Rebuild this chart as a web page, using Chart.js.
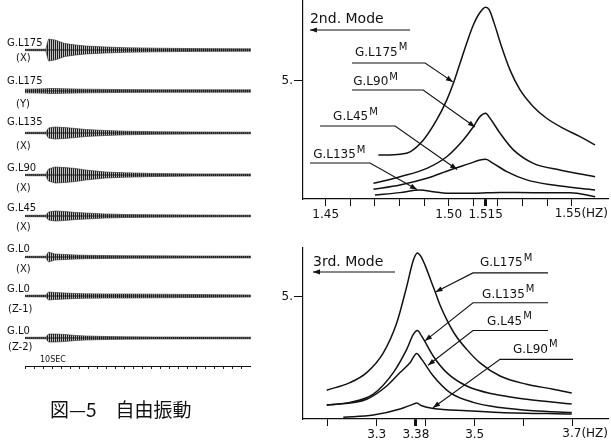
<!DOCTYPE html>
<html><head><meta charset="utf-8">
<script src="https://cdn.jsdelivr.net/npm/chart.js@4.4.1/dist/chart.umd.min.js"></script>
<style>
html,body{margin:0;padding:0;background:#fff;}
body{width:611px;height:443px;position:relative;overflow:hidden;font-family:"DejaVu Sans",sans-serif;color:#111;}
canvas{position:absolute;}
.lbl{position:absolute;font-size:10px;line-height:11px;transform:translateY(-50%);white-space:nowrap;color:#111;}
.cap{position:absolute;left:50px;top:408px;transform:translateY(-50%);font-family:"Noto Sans CJK JP",sans-serif;font-size:19px;color:#111;white-space:nowrap;}
</style></head><body>
<canvas id="cl" width="226" height="443" style="left:25px;top:0px"></canvas>
<canvas id="ct" width="351" height="230" style="left:260px;top:0px"></canvas>
<canvas id="cb" width="351" height="203" style="left:260px;top:240px"></canvas>
<div id="labels"></div>
<div class="cap">図—5　自由振動</div>
<script>
// ---------- DATA ----------
// Free vibration records: envelope half-amplitudes
const traceNames = ['G.L175','G.L175','G.L135','G.L90','G.L45','G.L0','G.L0','G.L0'];
const traceComps = ['(X)','(Y)','(X)','(X)','(X)','(X)','(Z-1)','(Z-2)'];
const traceTime  = [0, 2.3, 2.6, 3.3, 4.4, 5.6, 6.7, 8.9, 11.1, 14.4, 18.9, 25]; // sec
const ampGL175X = [0.7, 0.8, 11, 10, 6.5, 5, 4, 3, 2.3, 1.8, 1.4, 1.2];
const ampGL175Y = [1.8, 2.2, 2.5, 2.5, 2.2, 2, 1.8, 1.6, 1.4, 1.3, 1.3, 1.2];
const ampGL135X = [0.7, 0.8, 5, 6, 5.5, 4.5, 3.5, 2.5, 1.8, 1.3, 1, 0.8];
const ampGL90X  = [0.7, 0.8, 6, 8, 7.5, 6.5, 5, 3, 2.2, 1.5, 1.1, 1];
const ampGL45X  = [0.7, 0.8, 4, 5, 4.5, 3.5, 3, 2, 1.5, 1.2, 1, 0.8];
const ampGL0X   = [0.7, 0.8, 5, 3, 2.5, 2, 1.7, 1.5, 1.3, 1.2, 1, 0.9];
const ampGL0Z1  = [0.8, 0.9, 4, 3.5, 3, 2.5, 2.2, 2, 2, 1.8, 1.5, 1];
const ampGL0Z2  = [0.7, 0.8, 4, 4, 3.5, 2.5, 2, 1.5, 1.2, 1, 0.9, 0.8];
const traceAmps = [ampGL175X, ampGL175Y, ampGL135X, ampGL90X, ampGL45X, ampGL0X, ampGL0Z1, ampGL0Z2];

// 2nd mode resonance curves (frequency Hz, amplitude)
const m2f175 = [1.4714,1.4802,1.4843,1.4897,1.4951,1.4992,1.5019,1.5046,1.5073,1.5100,1.5125,1.5150,1.5165,1.5185,1.5215,1.5249,1.5290,1.5344,1.5398,1.5466,1.5534,1.5595];
const m2v175 = [1.86,1.90,2.00,2.50,3.35,4.19,4.90,5.75,6.60,7.37,7.87,8.12,8.01,7.44,6.45,5.47,4.62,3.91,3.42,2.99,2.64,2.29];
const m2f90  = [1.4694,1.4802,1.4911,1.4992,1.5059,1.5100,1.5127,1.5150,1.5168,1.5209,1.5263,1.5344,1.5452,1.5595];
const m2v90  = [0.665,0.945,1.30,1.79,2.50,3.06,3.49,3.63,3.42,2.78,2.08,1.51,1.23,0.945];
const m2f45  = [1.4694,1.4802,1.4911,1.5005,1.5087,1.5127,1.5150,1.5181,1.5236,1.5317,1.5425,1.5595];
const m2v45  = [0.41,0.593,0.876,1.23,1.51,1.65,1.68,1.51,1.16,0.81,0.59,0.38];
const m2f135 = [1.4700,1.4802,1.4883,1.4937,1.4992,1.5100,1.5209,1.5344,1.5493,1.5595];
const m2v135 = [0.17,0.27,0.38,0.31,0.24,0.24,0.28,0.27,0.27,0.10];
const m2Ticks  = [1.45,1.46,1.47,1.48,1.49,1.50,1.51,1.515,1.52,1.53,1.54,1.55];
const m2Labels = ['1.45','','','','','1.50','','1.515','','','','1.55'];
const m2Peak = 1.515;

// 3rd mode resonance curves
const m3f175 = [3.198,3.2455,3.2796,3.3135,3.3408,3.3612,3.3747,3.3830,3.3898,3.3986,3.4088,3.4190,3.4292,3.4429,3.4598,3.4837,3.5108,3.5516,3.6061,3.6604,3.698];
const m3v175 = [1.18,1.49,1.90,2.71,3.93,5.42,6.50,6.80,6.67,6.30,5.76,5.22,4.67,4.07,3.46,2.85,2.30,1.76,1.42,1.22,1.06];
const m3f135 = [3.198,3.2455,3.2931,3.3339,3.3612,3.3747,3.3830,3.3918,3.4155,3.4429,3.4837,3.538,3.6061,3.698];
const m3v135 = [0.57,0.68,1.02,1.90,2.85,3.46,3.62,3.39,2.57,1.90,1.35,1.02,0.81,0.61];
const m3f45  = [3.198,3.2796,3.3204,3.3476,3.3680,3.3816,3.3918,3.4155,3.4496,3.4971,3.5516,3.6196,3.698];
const m3v45  = [0.57,0.81,1.35,1.90,2.30,2.68,2.44,1.76,1.08,0.68,0.47,0.34,0.27];
const m3f90  = [3.2318,3.2931,3.3476,3.3747,3.3816,3.3918,3.4155,3.4837,3.5516,3.698];
const m3v90  = [0.07,0.16,0.41,0.61,0.65,0.54,0.43,0.34,0.27,0.20];
const m3Ticks  = [3.2,3.3,3.38,3.4,3.5,3.6,3.7];
const m3Labels = ['','3.3','3.38','','3.5','','3.7'];
const m3Peak = 3.38;
const yTickValue = 5, yTickLabel = '5.';
const xUnit = '(HZ)';

// ---------- LAYOUT (page pixels) ----------
const rowBase = [50,91,133,175,216,257,296,338];
const nameY   = [42,80,121,167,207,248,288,330];
const compY   = [57,103,145,187,226,268,308,346];

Chart.defaults.font.family = '"DejaVu Sans", sans-serif';
Chart.defaults.font.size = 12;
Chart.defaults.color = '#111';
Chart.defaults.animation = false;
Chart.defaults.plugins.legend.display = false;
Chart.defaults.plugins.tooltip.enabled = false;

// labels for traces
const L = document.getElementById('labels');
function addLbl(t, x, y, size){ const d=document.createElement('div'); d.className='lbl'; d.textContent=t; d.style.left=x+'px'; d.style.top=y+'px'; if(size) d.style.fontSize=size+'px'; L.appendChild(d);}
traceNames.forEach((n,i)=>{ addLbl(n, 7, nameY[i]); addLbl(traceComps[i], traceComps[i].length>3?8:16, compY[i]); });
addLbl('10SEC', 40, 359, 8);

// ---------- LEFT: traces ----------
function stripes(){ const c=document.createElement('canvas'); c.width=2; c.height=4; const g=c.getContext('2d'); g.fillStyle='#1c1c1c'; g.fillRect(0,0,1,4); g.fillStyle='rgba(80,80,80,0.35)'; g.fillRect(1,0,1,4); return g.createPattern(c,'repeat'); }
const pat = stripes();
const leftSets = [];
traceAmps.forEach((amp,i)=>{
  const b = rowBase[i];
  leftSets.push({data: traceTime.map((t,j)=>({x:t,y:b-amp[j]})), borderColor:'#2a2a2a', borderWidth:0.6, pointRadius:0, tension:0, fill:false});
  leftSets.push({data: traceTime.map((t,j)=>({x:t,y:b+amp[j]})), borderColor:'#2a2a2a', borderWidth:0.6, pointRadius:0, tension:0, fill:'-1', backgroundColor:pat});
  leftSets.push({data: [{x:traceTime[0],y:b},{x:traceTime[traceTime.length-1],y:b}], borderColor:'#111', borderWidth:1, pointRadius:0});
});
new Chart(document.getElementById('cl'), {
  type:'line', data:{datasets:leftSets},
  options:{responsive:false, layout:{padding:0}, clip:false,
    scales:{
      x:{type:'linear', min:0, max:25, ticks:{display:false, stepSize:1},
         grid:{drawOnChartArea:false, drawTicks:true, tickLength:3, color:'#222'},
         border:{display:true, color:'#111', width:1},
         afterFit:s=>{s.height=77; s.paddingLeft=0; s.paddingRight=0;}},
      y:{display:false, min:0, max:366, reverse:true}
    }}
});

// ---------- RIGHT: resonance curves ----------
function arrowHead(ctx, a, b){
  const ang = Math.atan2(b[1]-a[1], b[0]-a[0]), L=7, W=2.6;
  ctx.beginPath(); ctx.moveTo(b[0],b[1]);
  ctx.lineTo(b[0]-L*Math.cos(ang)+W*Math.sin(ang), b[1]-L*Math.sin(ang)-W*Math.cos(ang));
  ctx.lineTo(b[0]-L*Math.cos(ang)-W*Math.sin(ang), b[1]-L*Math.sin(ang)+W*Math.cos(ang));
  ctx.closePath(); ctx.fill();
}
function notesPlugin(notes, leaders, lastLabel){
  return {id:'notes', afterDraw(chart){
    const {ctx, scales:{x,y}} = chart;
    ctx.save(); ctx.strokeStyle='#111'; ctx.fillStyle='#111'; ctx.lineWidth=1.1;
    leaders.forEach(l=>{
      const p = l.pts.map(([a,b])=>[x.getPixelForValue(a), y.getPixelForValue(b)]);
      ctx.beginPath(); ctx.moveTo(p[0][0],p[0][1]); for(let k=1;k<p.length;k++) ctx.lineTo(p[k][0],p[k][1]); ctx.stroke();
      if(l.end) arrowHead(ctx, p[p.length-2], p[p.length-1]);
      if(l.start) arrowHead(ctx, p[1], p[0]);
    });
    notes.forEach(n=>{
      const px=x.getPixelForValue(n.at[0]), py=y.getPixelForValue(n.at[1]);
      ctx.font = n.size+'px "DejaVu Sans"'; ctx.textBaseline='middle'; ctx.textAlign='left';
      ctx.fillText(n.text, px, py);
      if(n.sup){ const w=ctx.measureText(n.text).width; ctx.font=Math.round(n.size*0.85)+'px "DejaVu Sans"'; ctx.fillText(n.sup, px+w+1, py-5); }
    });
    // last tick label with unit, ending at the axis end
    ctx.font='12px "DejaVu Sans"'; ctx.textBaseline='middle'; ctx.textAlign='right';
    ctx.fillText(lastLabel + xUnit, x.right, x.top + 15);
    ctx.restore();
  }};
}
function line(f, v){ return {data:f.map((q,i)=>({x:q,y:v[i]})), borderColor:'#111', borderWidth:1.5, pointRadius:0, cubicInterpolationMode:'monotone', fill:false}; }
function rightChart(id, sets, ticks, labels, peak, xMin, xMax, yMax, padTop, xH, notes, leaders){
  const last = labels.length-1;
  return new Chart(document.getElementById(id), {
    type:'line', data:{datasets:sets},
    options:{responsive:false, layout:{padding:{top:padTop, right:3, left:0, bottom:0}},
      scales:{
        x:{type:'linear', min:xMin, max:xMax,
          afterBuildTicks:s=>{s.ticks = ticks.map(v=>({value:v}));},
          ticks:{autoSkip:false, maxRotation:0, padding:2, callback:(v,i)=> i===last ? '' : labels[i]},
          grid:{drawOnChartArea:false, drawTicks:true, tickLength:7, color:'#111',
                lineWidth:c=> (c.tick && Math.abs(c.tick.value-peak)<1e-6) ? 3 : 1},
          border:{display:true, color:'#111', width:1.2},
          afterFit:s=>{s.height=xH; s.paddingLeft=0; s.paddingRight=0;}},
        y:{type:'linear', min:0, max:yMax,
          afterBuildTicks:s=>{s.ticks=[{value:yTickValue}];},
          ticks:{padding:1, callback:()=>yTickLabel},
          grid:{drawOnChartArea:false, drawTicks:true, tickLength:9, color:'#111'},
          border:{display:true, color:'#111', width:1.2},
          afterFit:s=>{s.width=43; s.paddingTop=0; s.paddingBottom=0;}}
      }},
    plugins:[notesPlugin(notes, leaders, labels[last])]
  });
}

rightChart('ct', [line(m2f175,m2v175), line(m2f90,m2v90), line(m2f45,m2v45), line(m2f135,m2v135)],
  m2Ticks, m2Labels, m2Peak, 1.44077, 1.56475, 8.43, 0, 31,
  [{text:'2nd. Mode', at:[1.4436,7.62], size:14},
   {text:'G.L175', sup:'M', at:[1.4619,6.19], size:12},
   {text:'G.L90', sup:'M', at:[1.4612,4.96], size:12},
   {text:'G.L45', sup:'M', at:[1.4530,3.47], size:12},
   {text:'G.L135', sup:'M', at:[1.4449,1.86], size:12}],
  [{pts:[[1.4436,7.16],[1.4843,7.16]], start:true},
   {pts:[[1.4607,5.76],[1.4904,5.76],[1.5017,4.96]], end:true},
   {pts:[[1.4607,4.62],[1.4896,4.62],[1.5107,3.05]], end:true},
   {pts:[[1.4477,3.09],[1.4782,3.09],[1.5034,1.25]], end:true},
   {pts:[[1.4436,1.525],[1.4680,1.525],[1.4871,0.40]], end:true}]);

rightChart('cb', [line(m3f175,m3v175), line(m3f135,m3v135), line(m3f45,m3v45), line(m3f90,m3v90)],
  m3Ticks, m3Labels, m3Peak, 3.1496, 3.772, 7.0, 8, 24,
  [{text:'3rd. Mode', at:[3.170,6.40], size:14},
   {text:'G.L175', sup:'M', at:[3.5108,6.38], size:12},
   {text:'G.L135', sup:'M', at:[3.5151,5.08], size:12},
   {text:'G.L45', sup:'M', at:[3.5253,3.98], size:12},
   {text:'G.L90', sup:'M', at:[3.5780,2.85], size:12}],
  [{pts:[[3.170,6.02],[3.3373,6.02]], start:true},
   {pts:[[3.6496,5.98],[3.4965,5.98],[3.4200,5.20]], end:true},
   {pts:[[3.6496,4.76],[3.4965,4.76],[3.3986,3.20]], end:true},
   {pts:[[3.6496,3.62],[3.4965,3.62],[3.4047,2.20]], end:true},
   {pts:[[3.7006,2.44],[3.5516,2.44],[3.4149,0.46]], end:true}]);
</script>
</body></html>
